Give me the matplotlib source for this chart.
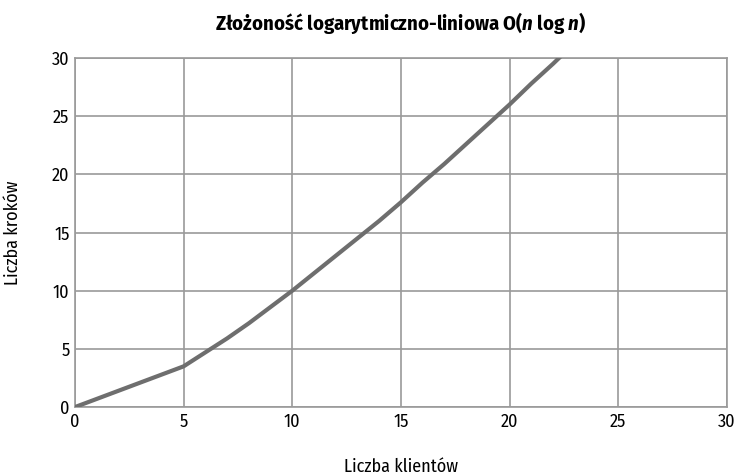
import matplotlib
matplotlib.use("Agg")
import matplotlib.pyplot as plt
from matplotlib import font_manager

# dane: liczba klientow i liczba krokow
klienci = [0, 5, 6, 7, 8, 9, 10, 11, 12, 13, 14, 15, 16, 17, 18, 19, 20, 21, 22, 23]
kroki = [0, 3.5, 4.7, 5.9, 7.2, 8.6, 10.0, 11.5, 13.0, 14.5, 16.0, 17.6, 19.3, 20.9, 22.6, 24.3, 26.0, 27.8, 29.5, 31.3]
x_ticks = [0, 5, 10, 15, 20, 25, 30]
y_ticks = [0, 5, 10, 15, 20, 25, 30]

names = {f.name for f in font_manager.fontManager.ttflist}
family = "Fira Sans Condensed" if "Fira Sans Condensed" in names else "DejaVu Sans"
plt.rcParams["font.family"] = [family, "DejaVu Sans"]
plt.rcParams["mathtext.fontset"] = "custom"
plt.rcParams["mathtext.it"] = family + ":italic:bold"
plt.rcParams["mathtext.rm"] = family + ":bold"

fig = plt.figure(figsize=(7.35, 4.75), dpi=100)
ax = fig.add_axes([0.102, 0.143, 0.887, 0.735])

ax.plot(klienci, kroki, color="#6e6e6e", linewidth=3, solid_capstyle="butt", zorder=3)

ax.set_xlim(0, 30)
ax.set_ylim(0, 30)
ax.set_xticks(x_ticks)
ax.set_yticks(y_ticks)
ax.grid(True, color="#9a9a9a", linewidth=1.2)
ax.set_axisbelow(True)
for s in ax.spines.values():
    s.set_color("#9a9a9a")
    s.set_linewidth(1.2)
ax.tick_params(length=0, labelsize=13, pad=4)
for lab in ax.get_xticklabels() + ax.get_yticklabels():
    lab.set_clip_on(False)

ax.set_title("Złożoność logarytmiczno-liniowa O($\\mathit{n}$ log $\\mathit{n}$)",
             fontsize=14.8, fontweight="bold", pad=20)
ax.set_xlabel("Liczba klientów", fontsize=13, labelpad=20)
ax.set_ylabel("Liczba kroków", fontsize=13, labelpad=22)

fig.savefig("out.png", dpi=100)
